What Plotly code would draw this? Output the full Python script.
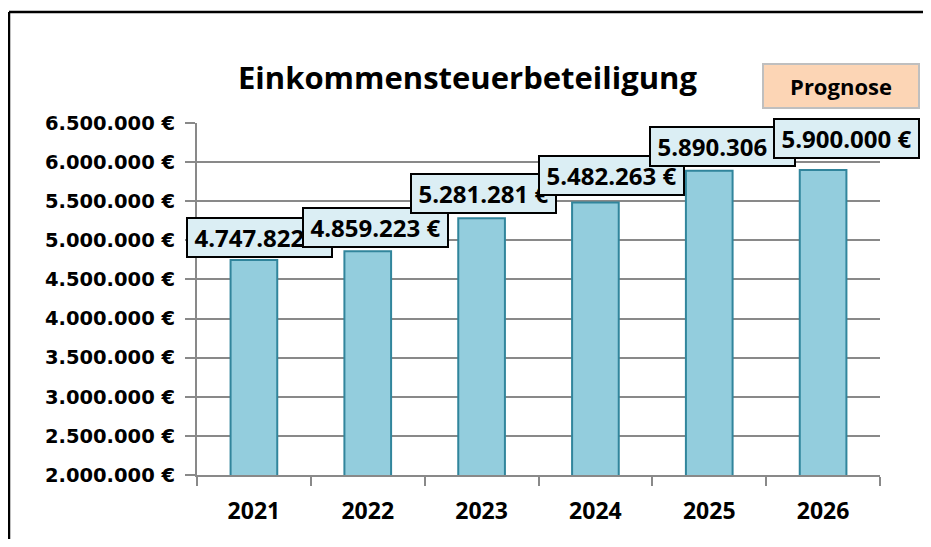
import plotly.graph_objects as go

# Einkommensteuerbeteiligung, 2026 is a forecast
YEARS = ['2021', '2022', '2023', '2024', '2025', '2026']
AMOUNTS = [4747822, 4859223, 5281281, 5482263, 5890306, 5900000]
Y_TICKS = [2000000 + 500000 * i for i in range(10)]

TITLE = 'Einkommensteuerbeteiligung'
NOTE = 'Prognose'

# pixel nudges of the value boxes, as they sit in the original
LABEL_SHIFT = [(6, 2), (8, 3), (2, 4), (16, 7), (13, 4), (23, 11)]

BAR_FILL = '#93CDDD'
BAR_LINE = '#31859C'
LABEL_BG = '#DBEEF4'
GRID = '#898989'

PAGE_OFF = 8  # default body margin of the html page (both sides)
W, H = 931 - 2 * PAGE_OFF, 547 - 2 * PAGE_OFF
# plot area in page pixels
PX_L, PX_R, PX_T, PX_B = 197, 880, 123, 475
L, R = PX_L - PAGE_OFF, W - (PX_R - PAGE_OFF)
T, B = PX_T - PAGE_OFF, H - (PX_B - PAGE_OFF)


def fmt_euro(v):
    return f'{v:,}'.replace(',', '.') + ' €'


def px_to_paper_x(px):
    return (px - PX_L) / (PX_R - PX_L)


def px_to_paper_y(py):
    return (PX_B - py) / (PX_B - PX_T)


bars = go.Bar(
    x=YEARS,
    y=AMOUNTS,
    width=0.41,
    marker=dict(color=BAR_FILL, line=dict(color=BAR_LINE, width=2)),
    hoverinfo='x+y',
)

annotations = []
for i, (val, (dx, dy)) in enumerate(zip(AMOUNTS, LABEL_SHIFT)):
    annotations.append(dict(
        x=i, y=val, xref='x', yref='y',
        text=fmt_euro(val),
        showarrow=False,
        xanchor='center', yanchor='bottom',
        xshift=dx, yshift=dy,
        width=141, height=35,
        bgcolor=LABEL_BG,
        bordercolor='black', borderwidth=2, borderpad=1,
        font=dict(family='Open Sans', size=24, color='black', weight='bold'),
    ))

# title and forecast note
annotations.append(dict(
    x=px_to_paper_x(467), y=px_to_paper_y(77), xref='paper', yref='paper',
    text=TITLE, showarrow=False, xanchor='center', yanchor='middle',
    font=dict(family='Open Sans', size=31, color='black', weight='bold'),
))
annotations.append(dict(
    x=px_to_paper_x(841), y=px_to_paper_y(86), xref='paper', yref='paper',
    text=NOTE, showarrow=False, xanchor='center', yanchor='middle',
    width=152, height=40,
    bgcolor='#FCD5B5', bordercolor='#BFBFBF', borderwidth=2, borderpad=1,
    font=dict(family='Open Sans', size=22, color='black', weight='bold'),
))

# outer chart frame: only its left and top edge are inside the picture
frame = dict(color='black', width=2.5)
shapes = [
    dict(type='line', xref='paper', yref='paper',
         x0=px_to_paper_x(9), x1=px_to_paper_x(9),
         y0=px_to_paper_y(560), y1=px_to_paper_y(12), line=frame),
    dict(type='line', xref='paper', yref='paper',
         x0=px_to_paper_x(9), x1=px_to_paper_x(940),
         y0=px_to_paper_y(12), y1=px_to_paper_y(12), line=frame),
]

layout = go.Layout(
    width=W, height=H,
    margin=dict(l=L, r=R, t=T, b=B, pad=0, autoexpand=False),
    paper_bgcolor='white',
    plot_bgcolor='white',
    showlegend=False,
    xaxis=dict(
        type='category',
        range=[-0.5, len(YEARS) - 0.5],
        autorange=False,
        automargin=False,
        showgrid=False,
        showline=True, linecolor=GRID, linewidth=2,
        ticks='outside', tickson='boundaries', ticklen=9,
        tickcolor=GRID, tickwidth=2,
        tickangle=0,
        ticklabelstandoff=14,
        tickfont=dict(family='Open Sans', size=23, color='black', weight='bold'),
    ),
    yaxis=dict(
        range=[2000000, 6500000],
        autorange=False,
        automargin=False,
        tickvals=Y_TICKS,
        ticktext=[fmt_euro(v) for v in Y_TICKS],
        showgrid=True, gridcolor=GRID, gridwidth=2,
        showline=True, linecolor=GRID, linewidth=2,
        ticks='outside', ticklen=10, tickcolor=GRID, tickwidth=2,
        ticklabelstandoff=6,
        zeroline=False,
        tickfont=dict(family='DejaVu Sans', size=19.5, color='black', weight='bold'),
    ),
    annotations=annotations,
    shapes=shapes,
)

fig = go.Figure(data=[bars], layout=layout)
fig.write_html('out.html')
